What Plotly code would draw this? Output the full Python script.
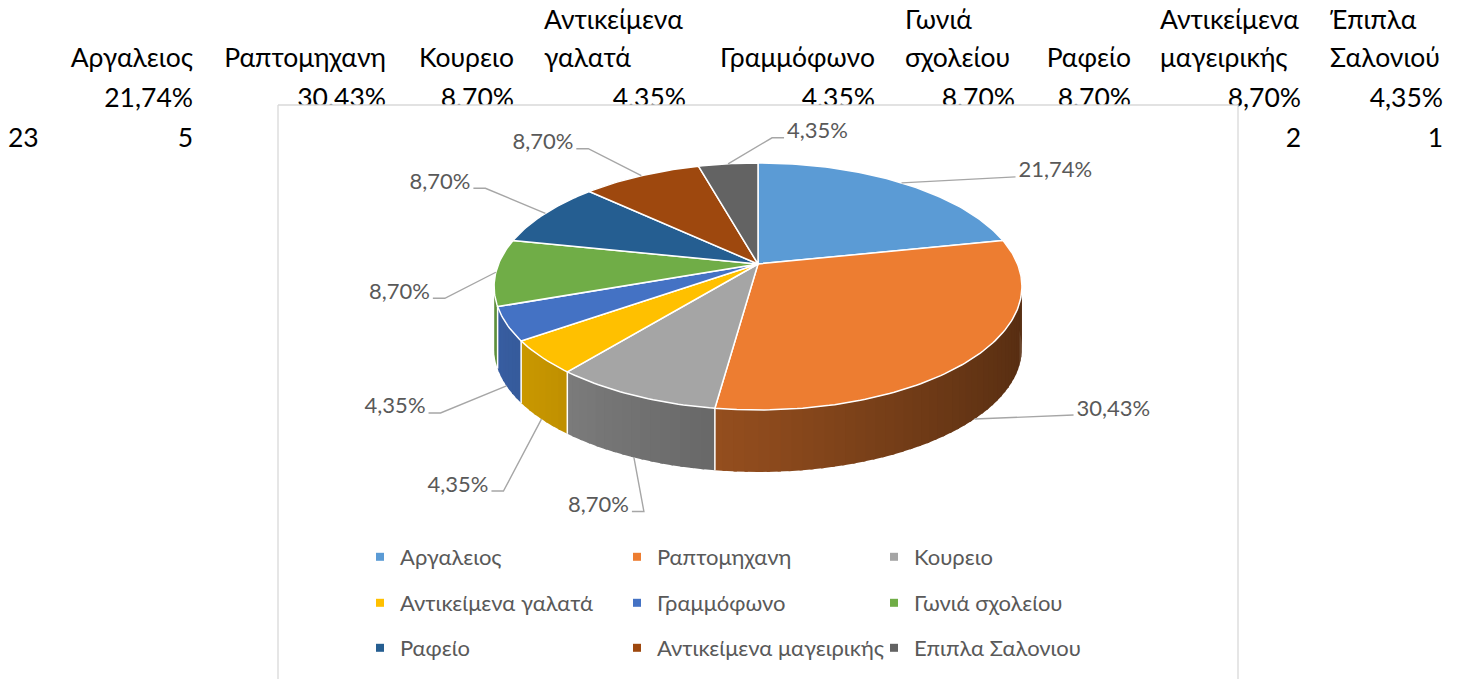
import math
import plotly.graph_objects as go

# ---------------- data ----------------
categories = ["Αργαλειος", "Ραπτομηχανη", "Κουρειο", "Αντικείμενα γαλατά", "Γραμμόφωνο",
              "Γωνιά σχολείου", "Ραφείο", "Αντικείμενα μαγειρικής", "Επιπλα Σαλονιου"]
header_line1 = ["", "", "", "Αντικείμενα", "", "Γωνιά", "", "Αντικείμενα", "Έπιπλα"]
header_line2 = ["Αργαλειος", "Ραπτομηχανη", "Κουρειο", "γαλατά", "Γραμμόφωνο",
                "σχολείου", "Ραφείο", "μαγειρικής", "Σαλονιού"]
counts = [5, 7, 2, 1, 1, 2, 2, 2, 1]

total = sum(counts)
pct_labels = [f"{c / total * 100:.2f}%".replace(".", ",") for c in counts]

# ---------------- style / layout ----------------
W, H = 1463, 679
COLORS = ["#5B9BD5", "#ED7D31", "#A5A5A5", "#FFC000", "#4472C4",
          "#70AD47", "#255E91", "#9E480E", "#636363"]
FONT = "Lato, 'Liberation Sans', sans-serif"
CELL_FONT = dict(family=FONT, size=26.5, color="#000000")
LABEL_FONT = dict(family=FONT, size=22, color="#595959")

CELL_RIGHT = [193, 386, 514, 686, 875, 1015, 1131, 1301, 1443]
CELL_LEFT_WRAP = [None, None, None, 544, None, 905, None, 1160, 1330]
ROW_Y = [22, 60, 100, 140]
TOTAL_X = 8

BOX = (278, 105, 1238, 720)  # chart area frame (left, top, right, bottom)

# pie geometry (3D perspective)
CX, CY = 758, 264
RX, RY, K = 259.5, 119.4, 0.182
DEPTH = 62

LABEL_OFFSETS = [(117, -11), (102, -9), (-5, 49), (-53, 67), (-81, 22),
                 (-66, 21), (-75, -30), (-68, -32), (59, -31)]

LEG_TEXT_X = [400, 659, 914]
LEG_ROW_Y = [557, 603, 648]


def hex_to_rgb(h):
    h = h.lstrip("#")
    return tuple(int(h[i:i + 2], 16) for i in (0, 2, 4))


def shade(h, f):
    r, g, b = hex_to_rgb(h)
    return f"rgb({min(255, int(r * f))},{min(255, int(g * f))},{min(255, int(b * f))})"


def proj(a_deg, drop=0.0):
    a = math.radians(a_deg)
    u, v = math.sin(a), math.cos(a)
    w = 1 + K * v
    return CX + RX * u / w, CY - RY * v / w + drop


fig = go.Figure()

# ---------- spreadsheet cells (under the chart frame) ----------
rx, ry, rt = [], [], []
lx, ly, lt = [], [], []
for i in range(len(categories)):
    if CELL_LEFT_WRAP[i] is None:
        rx.append(CELL_RIGHT[i]); ry.append(ROW_Y[1]); rt.append(header_line2[i])
    else:
        lx += [CELL_LEFT_WRAP[i], CELL_LEFT_WRAP[i]]
        ly += [ROW_Y[0], ROW_Y[1]]
        lt += [header_line1[i], header_line2[i]]
    rx.append(CELL_RIGHT[i]); ry.append(ROW_Y[2]); rt.append(pct_labels[i])
    rx.append(CELL_RIGHT[i]); ry.append(ROW_Y[3]); rt.append(str(counts[i]))
lx.append(TOTAL_X); ly.append(ROW_Y[3]); lt.append(str(total))

fig.add_trace(go.Scatter(x=rx, y=ry, text=rt, mode="text", textposition="middle left",
                         textfont=CELL_FONT, showlegend=False, hoverinfo="skip"))
fig.add_trace(go.Scatter(x=lx, y=ly, text=lt, mode="text", textposition="middle right",
                         textfont=CELL_FONT, showlegend=False, hoverinfo="skip"))

# ---------- chart frame ----------
bl, bt, br, bb = BOX
fig.add_trace(go.Scatter(x=[bl, br, br, bl, bl], y=[bt, bt, bb, bb, bt], mode="lines",
                         fill="toself", fillcolor="white", line=dict(color="#D9D9D9", width=1.3),
                         showlegend=False, hoverinfo="skip"))

# ---------- pie ----------
cum = [0.0]
for c in counts:
    cum.append(cum[-1] + c / total * 360.0)

# side strips (shaded by orientation)
strips = []
for i in range(len(counts)):
    a0, a1 = max(cum[i], 90.0), min(cum[i + 1], 260.0)
    if a1 <= a0:
        continue
    n = max(1, int(math.ceil((a1 - a0) / 2.0)))
    for j in range(n):
        b0 = a0 + (a1 - a0) * j / n
        b1 = a0 + (a1 - a0) * (j + 1) / n
        mid = (b0 + b1) / 2
        strips.append((math.cos(math.radians(mid)), i, b0, b1, mid, a1))
strips.sort(key=lambda s: -s[0])
for _, i, b0, b1, mid, a_end in strips:
    b1e = min(b1 + 0.6, a_end)
    pts_top = [proj(b0 + (b1e - b0) * t / 3) for t in range(4)]
    pts_bot = [proj(b0 + (b1e - b0) * t / 3, DEPTH) for t in range(3, -1, -1)]
    pts = pts_top + pts_bot + [pts_top[0]]
    col = shade(COLORS[i], 0.6 - 0.24 * math.sin(math.radians(mid)))
    fig.add_trace(go.Scatter(x=[p[0] for p in pts], y=[p[1] for p in pts],
                             mode="lines", fill="toself", fillcolor=col,
                             line=dict(color=col, width=0),
                             showlegend=False, hoverinfo="skip"))

# white edges between slices on the side
ex, ey = [], []
for a in cum[1:-1]:
    if 100.5 < a < 259.5:
        p, q = proj(a), proj(a, DEPTH)
        ex += [p[0], q[0], None]
        ey += [p[1], q[1], None]
fig.add_trace(go.Scatter(x=ex, y=ey, mode="lines", line=dict(color="white", width=1.5),
                         showlegend=False, hoverinfo="skip"))

# top faces
for i in range(len(counts)):
    a0, a1 = cum[i], cum[i + 1]
    n = max(2, int(math.ceil((a1 - a0) / 1.0)))
    xs, ys = [CX], [CY]
    for j in range(n + 1):
        p = proj(a0 + (a1 - a0) * j / n)
        xs.append(p[0]); ys.append(p[1])
    xs.append(CX); ys.append(CY)
    fig.add_trace(go.Scatter(x=xs, y=ys, mode="lines", fill="toself", fillcolor=COLORS[i],
                             line=dict(color="white", width=1.5),
                             showlegend=False, hoverinfo="skip"))

# data labels with leader lines
llx, lly = [], []
tr_x, tr_y, tr_t = [], [], []
tl_x, tl_y, tl_t = [], [], []
for i in range(len(counts)):
    mid = (cum[i] + cum[i + 1]) / 2
    anchor = proj(mid, DEPTH) if math.cos(math.radians(mid)) < -0.3 else proj(mid)
    dx, dy = LABEL_OFFSETS[i]
    tx, ty = anchor[0] + dx, anchor[1] + dy
    s = 1 if dx >= 0 else -1
    hx, hy = tx - s * 3, ty + 5
    exx = tx - s * 15
    llx += [anchor[0], exx, hx, None]
    lly += [anchor[1], hy, hy, None]
    if s > 0:
        tr_x.append(tx); tr_y.append(ty); tr_t.append(pct_labels[i])
    else:
        tl_x.append(tx); tl_y.append(ty); tl_t.append(pct_labels[i])

fig.add_trace(go.Scatter(x=llx, y=lly, mode="lines", line=dict(color="#A6A6A6", width=1.4),
                         showlegend=False, hoverinfo="skip"))
fig.add_trace(go.Scatter(x=tr_x, y=tr_y, text=tr_t, mode="text", textposition="middle right",
                         textfont=LABEL_FONT, showlegend=False, hoverinfo="skip"))
fig.add_trace(go.Scatter(x=tl_x, y=tl_y, text=tl_t, mode="text", textposition="middle left",
                         textfont=LABEL_FONT, showlegend=False, hoverinfo="skip"))

# legend entries
legend_names = ["legend", "legend2", "legend3"]
for i, name in enumerate(categories):
    fig.add_trace(go.Scatter(x=[None], y=[None], mode="markers", name=name,
                             marker=dict(symbol="square", size=8, color=COLORS[i]),
                             legend=legend_names[i // 3], hoverinfo="skip"))

leg_common = dict(orientation="h", xanchor="left", yanchor="middle",
                  entrywidth=212, entrywidthmode="pixels", bgcolor="rgba(0,0,0,0)",
                  font=dict(family=FONT, size=22, color="#595959"), traceorder="normal")
legends = {}
for r, name in enumerate(legend_names):
    legends[name] = dict(leg_common, x=(LEG_TEXT_X[0] - 40) / W, y=1 - LEG_ROW_Y[r] / H)

fig.update_layout(
    width=W, height=H, margin=dict(l=0, r=0, t=0, b=0),
    paper_bgcolor="white", plot_bgcolor="white",
    xaxis=dict(range=[0, W], visible=False, fixedrange=True),
    yaxis=dict(range=[H, 0], visible=False, fixedrange=True),
    hovermode=False,
    **legends,
)

fig.write_html("out.html", config={"displayModeBar": False, "staticPlot": True},
               post_script="document.body.style.margin='0px';")
